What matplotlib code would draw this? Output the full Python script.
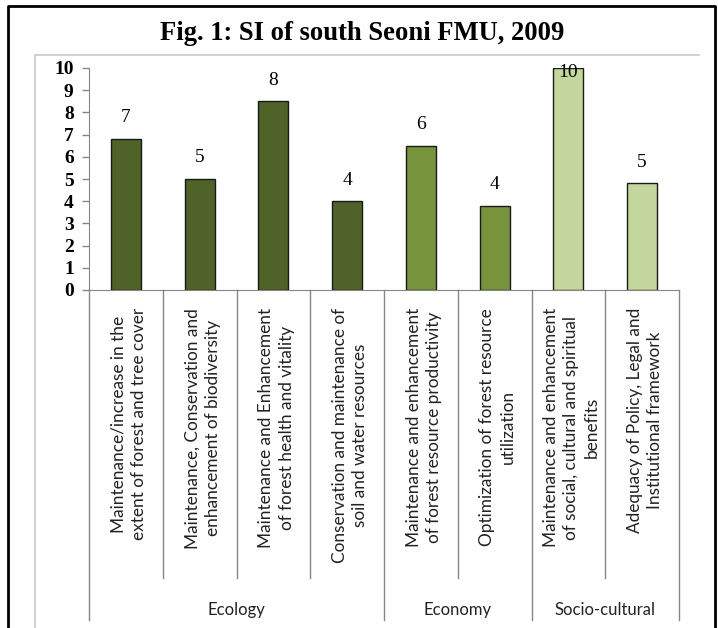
import matplotlib
matplotlib.use("Agg")
import matplotlib.pyplot as plt
import matplotlib.transforms as mtransforms
from matplotlib.lines import Line2D

# ---- data ----
categories = [
    "Maintenance/increase in the\nextent of forest and tree cover",
    "Maintenance, Conservation and\nenhancement of biodiversity",
    "Maintenance and Enhancement\nof forest health and vitality",
    "Conservation and maintenance of\nsoil and water resources",
    "Maintenance and enhancement\nof forest resource productivity",
    "Optimization of forest resource\nutilization",
    "Maintenance and enhancement\nof social, cultural and spiritual\nbenefits",
    "Adequacy of Policy, Legal and\nInstitutional framework",
]
values = [6.8, 5.0, 8.5, 4.0, 6.5, 3.8, 10.0, 4.8]
value_labels = ["7", "5", "8", "4", "6", "4", "10", "5"]
groups = ["Ecology", "Economy", "Socio-cultural"]
group_sizes = [4, 2, 2]
group_colors = ["#4F6228", "#77933C", "#C3D69B"]
yticks = list(range(0, 11))
title = "Fig. 1: SI of south Seoni FMU, 2009"

W, H = 718, 628
fig = plt.figure(figsize=(W / 100, H / 100), dpi=100)
fig.patch.set_facecolor("white")

def fx(px):
    return px / W

def fy(py):
    return 1 - py / H

# outer black frame and grey chart-area frame
fig.add_artist(Line2D([fx(8), fx(8), fx(715), fx(715)], [fy(640), fy(6), fy(6), fy(640)],
                      transform=fig.transFigure, color="black", lw=2))
fig.add_artist(Line2D([fx(35), fx(35), fx(699)], [fy(640), fy(55), fy(55)],
                      transform=fig.transFigure, color="#c8c8c8", lw=1.2))

fig.text(fx(362), fy(33), title, ha="center", va="center",
         family="Liberation Serif", weight="bold", fontsize=19.2)

ax_l, ax_r, ax_t, ax_b = 89, 679, 68, 290
ax = fig.add_axes([fx(ax_l), fy(ax_b), fx(ax_r) - fx(ax_l), fy(ax_t) - fy(ax_b)])

n = len(values)
xs = list(range(n))
colors = []
for g, s in enumerate(group_sizes):
    colors += [group_colors[g]] * s

ax.bar(xs, values, width=0.41, color=colors, edgecolor="#1a1a1a", linewidth=1.0, zorder=3)
ax.set_xlim(-0.5, n - 0.5)
ax.set_ylim(0, 10)

for x, v, lab in zip(xs, values, value_labels):
    ax.text(x, min(v + 0.95, 9.8), lab, ha="center", va="center",
            family="Liberation Serif", fontsize=14, color="black", zorder=4)

ax.set_yticks(yticks)
ax.set_yticklabels([str(t) for t in yticks], family="Liberation Serif",
                   weight="bold", fontsize=14)
ax.tick_params(axis="y", direction="out", length=5, width=1, color="#868686", pad=6)
ax.set_xticks([])
for side in ["top", "right"]:
    ax.spines[side].set_visible(False)
ax.spines["left"].set_color("#868686")
ax.spines["bottom"].set_color("#868686")
ax.patch.set_alpha(0)

# multi-level category axis
bt = mtransforms.blended_transform_factory(ax.transData, fig.transFigure)
group_edges = [-0.5]
for s in group_sizes:
    group_edges.append(group_edges[-1] + s)
for b in [k + 0.5 for k in range(-1, n)]:
    bottom = 620 if b in group_edges else 578
    fig.add_artist(Line2D([b, b], [fy(ax_b), fy(bottom)], transform=bt,
                          color="#868686", lw=1))

for x, lab in zip(xs, categories):
    fig.text(x + 0.04, fy(308), lab, transform=bt, rotation=90, ha="center", va="top",
             multialignment="center", family="Lato", fontsize=12.4,
             linespacing=1.35, color="#222222")

for g, name in enumerate(groups):
    c = (group_edges[g] + group_edges[g + 1]) / 2
    fig.text(c, fy(610), name, transform=bt, ha="center", va="center",
             family="Lato", fontsize=12, color="#222222")

fig.savefig("out.png", dpi=100)
